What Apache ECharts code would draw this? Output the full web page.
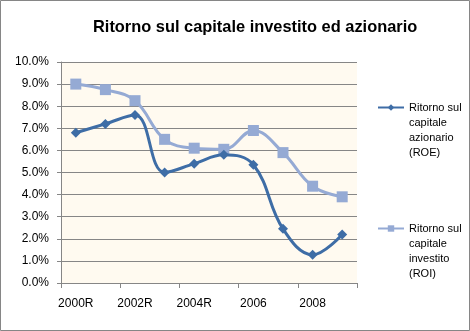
<!DOCTYPE html>
<html><head><meta charset="utf-8">
<script src="https://cdn.jsdelivr.net/npm/echarts@6/dist/echarts.min.js"></script>
<style>html,body{margin:0;padding:0;background:#fff}#c{width:470px;height:331px}</style>
</head><body><div id="c"></div>
<script>
var categories = ['2000R','2001R','2002R','2003R','2004R','2005','2006','2007','2008','2009'];
var roe = [6.8, 7.2, 7.6, 5.0, 5.4, 5.8, 5.35, 2.45, 1.28, 2.2];
var roi = [9.0, 8.75, 8.25, 6.5, 6.1, 6.05, 6.9, 5.9, 4.38, 3.9];
var nameROE = 'Ritorno sul\ncapitale\nazionario\n(ROE)';
var nameROI = 'Ritorno sul\ncapitale\ninvestito\n(ROI)';
var font = 'Liberation Sans, Arial, sans-serif';
var chart = echarts.init(document.getElementById('c'));
chart.setOption({
  animation: false,
  backgroundColor: '#fff',
  title: {text: 'Ritorno sul capitale investito ed azionario', left: 88, top: 14,
    textStyle: {fontFamily: font, fontSize: 16.4, fontWeight: 'bold', color: '#000'}},
  graphic: [{type: 'rect', shape: {x: 0.5, y: 0.5, width: 469, height: 330},
    style: {fill: 'none', stroke: '#868686', lineWidth: 1}, silent: true}],
  grid: {left: 61, right: 113, top: 62, bottom: 48, show: true, backgroundColor: '#FFFAF0', borderWidth: 0},
  legend: {orient: 'vertical', left: 377, top: 55, padding: 0, itemGap: 16, itemWidth: 26, itemHeight: 8,
    formatter: function(n){ return '\n\n\n' + n; },
    textStyle: {fontFamily: font, fontSize: 11, color: '#000', lineHeight: 15},
    data: [nameROE, nameROI]},
  xAxis: {type: 'category', data: categories, boundaryGap: true,
    axisLine: {lineStyle: {color: '#868686'}},
    axisTick: {show: true, length: 5, lineStyle: {color: '#868686'}},
    axisLabel: {interval: 1, fontFamily: font, fontSize: 12, color: '#000', margin: 15}},
  yAxis: {type: 'value', min: 0, max: 10, interval: 1,
    axisLine: {show: true, lineStyle: {color: '#868686'}},
    axisTick: {show: true, length: 4, lineStyle: {color: '#868686'}},
    splitLine: {lineStyle: {color: '#868686', width: 1}},
    axisLabel: {fontFamily: font, fontSize: 12, color: '#000', margin: 12,
      formatter: function(v){ return v.toFixed(1) + '%'; }}},
  series: [
    {name: nameROE, type: 'line', data: roe, smooth: 0.4, symbol: 'diamond', symbolSize: 10,
      itemStyle: {color: '#3E6DA6'}, lineStyle: {width: 3, color: '#3E6DA6'}, z: 3},
    {name: nameROI, type: 'line', data: roi, smooth: 0.4, symbol: 'rect', symbolSize: 11,
      itemStyle: {color: '#95AAD4'}, lineStyle: {width: 3, color: '#95AAD4'}, z: 2}
  ]
});
</script></body></html>
